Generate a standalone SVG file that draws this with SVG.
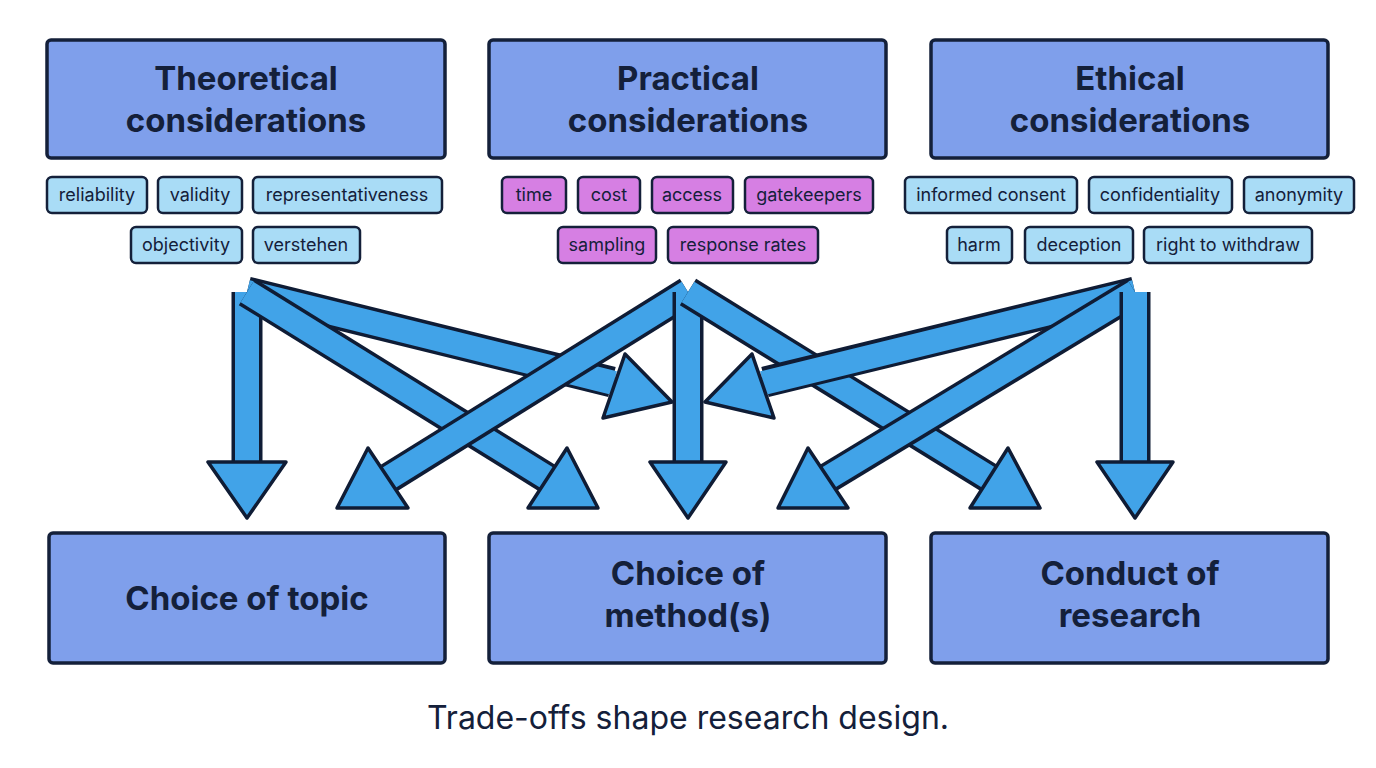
<svg xmlns="http://www.w3.org/2000/svg" width="1376" height="768" viewBox="0 0 1376 768">
<defs><style>
.box{fill:#7f9feb;stroke:#14203a;stroke-width:3.5}
.t{font-family:Inter,"Liberation Sans",sans-serif;fill:#14203a}
.title{font-size:33px;font-weight:700;text-anchor:middle}
.tag{stroke:#14203a;stroke-width:2.5}
.b{fill:#a9dcf6}.p{fill:#d67fe3}
.tg{font-size:18px;text-anchor:middle}
.so{fill:none;stroke:#0f1c35;stroke-width:31;stroke-linejoin:round;stroke-linecap:butt}
.si{fill:none;stroke:#41a3e8;stroke-width:24;stroke-linejoin:round;stroke-linecap:butt}
.hd{fill:#41a3e8;stroke:#0f1c35;stroke-width:3.5;stroke-linejoin:round}
</style></defs>
<rect width="1376" height="768" fill="#fff"/>
<g id="theoretical"><rect class="box" x="47" y="40" width="398" height="118" rx="4"/><text class="t title" x="246" y="90">Theoretical</text><text class="t title" x="246" y="132">considerations</text></g>
<g id="practical"><rect class="box" x="489" y="40" width="397" height="118" rx="4"/><text class="t title" x="688" y="90">Practical</text><text class="t title" x="688" y="132">considerations</text></g>
<g id="ethical"><rect class="box" x="931" y="40" width="397" height="118" rx="4"/><text class="t title" x="1130" y="90">Ethical</text><text class="t title" x="1130" y="132">considerations</text></g>
<g id="tags">
<rect class="tag b" x="47" y="177" width="100" height="36" rx="5"/><text class="t tg" x="97" y="201">reliability</text>
<rect class="tag b" x="158" y="177" width="84" height="36" rx="5"/><text class="t tg" x="200" y="201">validity</text>
<rect class="tag b" x="253" y="177" width="189" height="36" rx="5"/><text class="t tg" x="347" y="201">representativeness</text>
<rect class="tag b" x="131" y="227" width="111" height="36" rx="5"/><text class="t tg" x="186" y="251">objectivity</text>
<rect class="tag b" x="253" y="227" width="107" height="36" rx="5"/><text class="t tg" x="306" y="251">verstehen</text>
<rect class="tag p" x="502" y="177" width="64" height="36" rx="5"/><text class="t tg" x="534" y="201">time</text>
<rect class="tag p" x="578" y="177" width="62" height="36" rx="5"/><text class="t tg" x="609" y="201">cost</text>
<rect class="tag p" x="652" y="177" width="81" height="36" rx="5"/><text class="t tg" x="692" y="201">access</text>
<rect class="tag p" x="745" y="177" width="128" height="36" rx="5"/><text class="t tg" x="809" y="201">gatekeepers</text>
<rect class="tag p" x="558" y="227" width="98" height="36" rx="5"/><text class="t tg" x="607" y="251">sampling</text>
<rect class="tag p" x="668" y="227" width="150" height="36" rx="5"/><text class="t tg" x="743" y="251">response rates</text>
<rect class="tag b" x="905" y="177" width="172" height="36" rx="5"/><text class="t tg" x="991" y="201">informed consent</text>
<rect class="tag b" x="1089" y="177" width="143" height="36" rx="5"/><text class="t tg" x="1160" y="201">confidentiality</text>
<rect class="tag b" x="1244" y="177" width="110" height="36" rx="5"/><text class="t tg" x="1299" y="201">anonymity</text>
<rect class="tag b" x="947" y="227" width="65" height="36" rx="5"/><text class="t tg" x="979" y="251">harm</text>
<rect class="tag b" x="1025" y="227" width="108" height="36" rx="5"/><text class="t tg" x="1079" y="251">deception</text>
<rect class="tag b" x="1144" y="227" width="168" height="36" rx="5"/><text class="t tg" x="1228" y="251">right to withdraw</text>
</g>
<g id="connectors">
<!-- theoretical -->
<path class="so" d="M247,292 V465"/><path class="si" d="M247,292 V467"/>
<polygon class="hd" points="208,462 286,462 247,518"/>
<path class="so" d="M247,292 L612,382"/><path class="si" d="M247,292 L614,383"/>
<polygon class="hd" points="625,354 672,402 603,418"/>
<path class="so" d="M247,292 L547,478"/><path class="si" d="M247,292 L549,479"/>
<polygon class="hd" points="567,448 598,508 528,508"/>
<!-- practical -->
<path class="so" d="M688,292 L389,478"/><path class="si" d="M688,292 L387,479"/>
<polygon class="hd" points="368,448 337,508 408,508"/>
<path class="so" d="M688,292 V465"/><path class="si" d="M688,292 V467"/>
<polygon class="hd" points="650,462 726,462 688,518"/>
<path class="so" d="M688,292 L989,478"/><path class="si" d="M688,292 L991,479"/>
<polygon class="hd" points="1008,448 1040,508 970,508"/>
<!-- ethical -->
<path class="so" d="M1135,292 L765,382"/><path class="si" d="M1135,292 L763,383"/>
<polygon class="hd" points="752,354 705,402 774,418"/>
<path class="so" d="M1135,292 L828,478"/><path class="si" d="M1135,292 L826,479"/>
<polygon class="hd" points="808,448 778,508 848,508"/>
<path class="so" d="M1135,292 V465"/><path class="si" d="M1135,292 V467"/>
<polygon class="hd" points="1097,462 1173,462 1135,518"/>
</g>
<g id="topic"><rect class="box" x="49" y="533" width="396" height="130" rx="4"/><text class="t title" x="247" y="610">Choice of topic</text></g>
<g id="method"><rect class="box" x="489" y="533" width="397" height="130" rx="4"/><text class="t title" x="688" y="585">Choice of</text><text class="t title" x="688" y="627">method(s)</text></g>
<g id="conduct"><rect class="box" x="931" y="533" width="397" height="130" rx="4"/><text class="t title" x="1130" y="585">Conduct of</text><text class="t title" x="1130" y="627">research</text></g>
<text class="t" x="688" y="729" font-size="32" text-anchor="middle">Trade-offs shape research design.</text>
</svg>
